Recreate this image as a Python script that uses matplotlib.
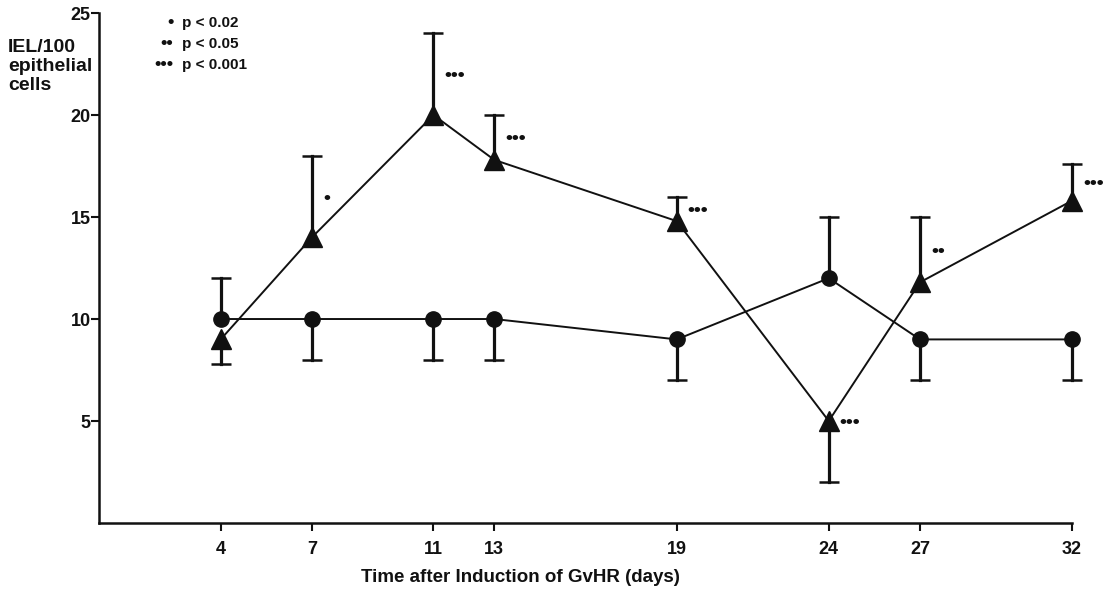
import numpy as np
import matplotlib
matplotlib.use("Agg")
import matplotlib.pyplot as plt

plt.rcParams['font.family'] = ['Liberation Sans', 'DejaVu Sans']
plt.rcParams['font.weight'] = 'bold'

# days after induction
days = [4, 7, 11, 13, 19, 24, 27, 32]

# GvHR group (triangles): mean, error above, error below
gvhr = [9, 14, 20, 17.8, 14.8, 5, 11.8, 15.8]
gvhr_up = [0, 4, 4, 2.2, 1.2, 0, 3.2, 1.8]
gvhr_down = [1.2, 0, 0, 0, 0, 3, 0, 0]
gvhr_sig = ['', '\u2022', '\u2022\u2022\u2022', '\u2022\u2022\u2022', '\u2022\u2022\u2022',
            '\u2022\u2022\u2022', '\u2022\u2022', '\u2022\u2022\u2022']

# control group (circles)
ctrl = [10, 10, 10, 10, 9, 12, 9, 9]
ctrl_up = [2, 0, 0, 0, 0, 3, 0, 0]
ctrl_down = [0, 2, 2, 2, 2, 0, 2, 2]

sig_key = ['\u2022', '\u2022\u2022', '\u2022\u2022\u2022']
sig_text = ['p < 0.02', 'p < 0.05', 'p < 0.001']

ink = '#111111'

fig = plt.figure(figsize=(11.19, 5.95), dpi=100)
ax = fig.add_axes([0.0885, 0.1210, 0.8695, 0.8571])


def one_sided_bars(x, mean, up, down):
    # only the non-zero side of each error bar gets a stem and a cap
    for xi, m, u, d in zip(x, mean, up, down):
        for end in (m + u, m - d):
            if end != m:
                ax.plot([xi, xi], [m, end], color=ink, lw=2.3, zorder=2, clip_on=False)
                ax.plot([xi], [end], marker='_', ms=15, mew=1.8, color=ink,
                        zorder=2, clip_on=False)


one_sided_bars(days, ctrl, ctrl_up, ctrl_down)
one_sided_bars(days, gvhr, gvhr_up, gvhr_down)

ax.plot(days, ctrl, '-o', color=ink, ms=11, lw=1.4, zorder=3, clip_on=False)
ax.plot(days, gvhr, '-^', color=ink, ms=15, lw=1.4, zorder=4, clip_on=False)

for x, m, u, s in zip(days, gvhr, gvhr_up, gvhr_sig):
    if s:
        ax.annotate(s, (x, m + u / 2), xytext=(8, -1), textcoords='offset points',
                    ha='left', va='center', fontsize=14, color=ink)

ax.set_xlim(0, 32)
ax.set_ylim(0, 25)
ax.set_xticks(days)
ax.set_yticks([5, 10, 15, 20, 25])
ax.tick_params(axis='x', length=6, width=1.5, labelsize=13, pad=7, colors=ink)
ax.tick_params(axis='y', length=6, width=1.5, labelsize=13, pad=0, colors=ink)
for side in ['top', 'right']:
    ax.spines[side].set_visible(False)
for side in ['left', 'bottom']:
    ax.spines[side].set_linewidth(1.8)
    ax.spines[side].set_color(ink)

ax.set_xlabel('Time after Induction of GvHR (days)', fontsize=13.5, fontweight='bold',
              labelpad=9, color=ink)
ax.xaxis.set_label_coords(0.433, -0.09)
fig.text(0.007, 0.935, 'IEL/100\nepithelial\ncells', ha='left', va='top',
         fontsize=14, linespacing=1.17, color=ink)

# significance key
for i, (k, t) in enumerate(zip(sig_key, sig_text)):
    yk = 0.962 - i * 0.0355
    fig.text(0.155, yk, k, ha='right', va='center', fontsize=13, color=ink)
    fig.text(0.163, yk, t, ha='left', va='center', fontsize=11, color=ink)

fig.savefig('out.png', dpi=100, facecolor='white')
